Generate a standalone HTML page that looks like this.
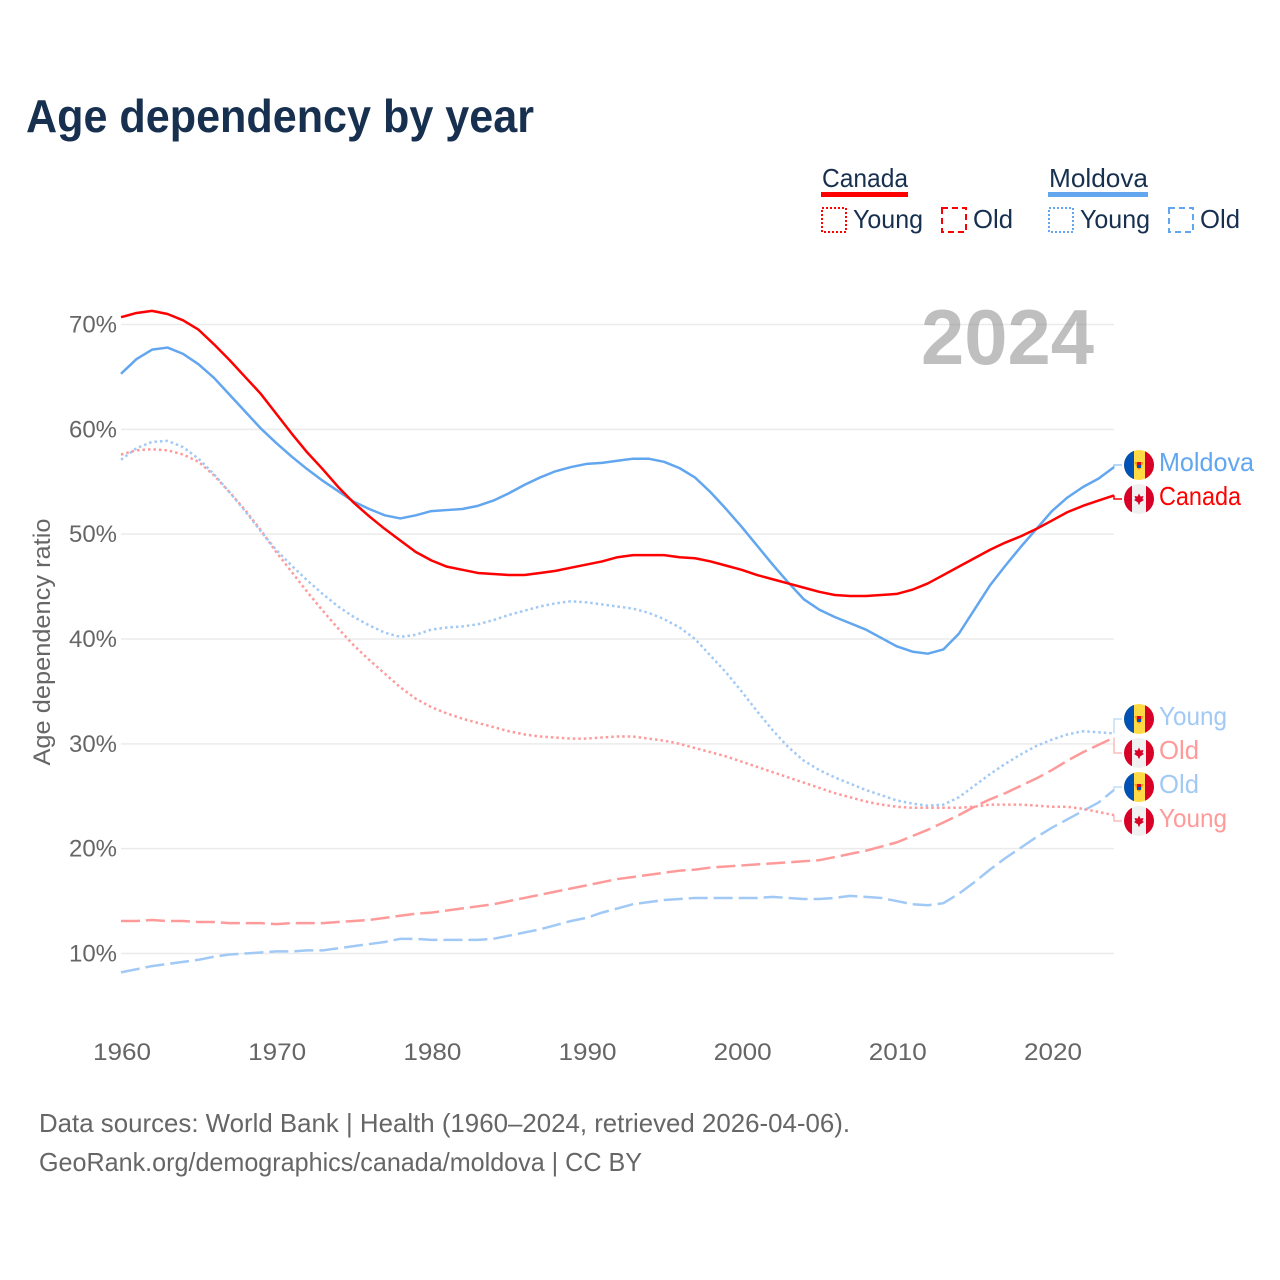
<!DOCTYPE html>
<html lang="en">
<head>
<meta charset="utf-8">
<title>Age dependency by year</title>
<style>
html,body{margin:0;padding:0;background:#fff;}
svg{display:block;}
text{font-family:"Liberation Sans",sans-serif;}
</style>
</head>
<body>
<svg id="chart" xmlns="http://www.w3.org/2000/svg" width="1280" height="1280" viewBox="0 0 1280 1280">
<rect x="0" y="0" width="1280" height="1280" fill="#fff"/>
<text x="26" y="132" font-size="46" font-weight="700" fill="#17304f" textLength="508" lengthAdjust="spacingAndGlyphs">Age dependency by year</text>

<g>
<text x="822" y="187" font-size="26" fill="#17304f" textLength="86" lengthAdjust="spacingAndGlyphs">Canada</text>
<rect x="821" y="192" width="87" height="5" fill="#ff0000"/>
<rect x="822" y="208" width="24" height="24" fill="none" stroke="#ff0000" stroke-width="2" stroke-dasharray="2 2"/>
<text x="853" y="228" font-size="26" fill="#17304f" textLength="70" lengthAdjust="spacingAndGlyphs">Young</text>
<rect x="942" y="208" width="24" height="24" fill="none" stroke="#ff0000" stroke-width="2" stroke-dasharray="6 4"/>
<text x="973" y="228" font-size="26" fill="#17304f" textLength="40" lengthAdjust="spacingAndGlyphs">Old</text>
<text x="1049" y="187" font-size="26" fill="#17304f" textLength="99" lengthAdjust="spacingAndGlyphs">Moldova</text>
<rect x="1048" y="192" width="100" height="5" fill="#62a6ef"/>
<rect x="1049" y="208" width="24" height="24" fill="none" stroke="#62a6ef" stroke-width="2" stroke-dasharray="2 2"/>
<text x="1080" y="228" font-size="26" fill="#17304f" textLength="70" lengthAdjust="spacingAndGlyphs">Young</text>
<rect x="1169" y="208" width="24" height="24" fill="none" stroke="#62a6ef" stroke-width="2" stroke-dasharray="6 4"/>
<text x="1200" y="228" font-size="26" fill="#17304f" textLength="40" lengthAdjust="spacingAndGlyphs">Old</text>
</g>

<g id="grid"></g>
<g id="yticks"></g>
<g id="xticks"></g>
<text x="0" y="0" transform="translate(50,642) rotate(-90)" text-anchor="middle" font-size="24" fill="#666" textLength="247" lengthAdjust="spacingAndGlyphs">Age dependency ratio</text>
<text x="921" y="364" font-size="78" font-weight="700" fill="#808080" fill-opacity="0.5" textLength="173" lengthAdjust="spacingAndGlyphs">2024</text>
<g id="connectors"></g>
<g id="series"></g>

<defs>
<clipPath id="flagClip"><circle cx="15" cy="15" r="15"/></clipPath>
<g id="flagCA" clip-path="url(#flagClip)">
<rect x="0" y="0" width="30" height="30" fill="#f0f0f0"/>
<rect x="0" y="0" width="8" height="30" fill="#d80027"/>
<rect x="22" y="0" width="8" height="30" fill="#d80027"/>
<polygon points="15,9.5 16.5,12.5 19.5,12 18.5,15 20,16 16,18.5 15.6,20.5 14.4,20.5 14,18.5 10,16 11.5,15 10.5,12 13.5,12.5" fill="#d80027"/>
</g>
<g id="flagMD" clip-path="url(#flagClip)">
<rect x="0" y="0" width="30" height="30" fill="#ffda44"/>
<rect x="0" y="0" width="10" height="30" fill="#0052b4"/>
<rect x="21" y="0" width="9" height="30" fill="#d80027"/>
<polygon points="10.5,12 19.5,12 17,18 15,20 13,18" fill="#ff9811"/>
<rect x="13" y="12" width="4" height="3" fill="#d80027"/>
<rect x="13" y="15" width="4" height="3" fill="#0052b4"/>
</g>
</defs>
<g id="flags"></g>
<g id="endLabels"></g>

<text x="39" y="1132" font-size="26" fill="#666" textLength="811" lengthAdjust="spacingAndGlyphs">Data sources: World Bank | Health (1960–2024, retrieved 2026-04-06).</text>
<text x="39" y="1171" font-size="26" fill="#666" textLength="603" lengthAdjust="spacingAndGlyphs">GeoRank.org/demographics/canada/moldova | CC BY</text>
</svg>

<script>
const startYear = 1960;
const yTickValues = [10, 20, 30, 40, 50, 60, 70];
const xTickYears = [1960, 1970, 1980, 1990, 2000, 2010, 2020];

const canadaTotal = [70.7,71.1,71.3,71.0,70.4,69.5,68.1,66.6,65.0,63.4,61.5,59.6,57.8,56.2,54.5,53.0,51.7,50.5,49.4,48.3,47.5,46.9,46.6,46.3,46.2,46.1,46.1,46.3,46.5,46.8,47.1,47.4,47.8,48.0,48.0,48.0,47.8,47.7,47.4,47.0,46.6,46.1,45.7,45.3,44.9,44.5,44.2,44.1,44.1,44.2,44.3,44.7,45.3,46.1,46.9,47.7,48.5,49.2,49.8,50.5,51.3,52.1,52.7,53.2,53.7];
const moldovaTotal = [65.3,66.7,67.6,67.8,67.2,66.2,64.9,63.3,61.7,60.1,58.7,57.4,56.2,55.1,54.1,53.1,52.4,51.8,51.5,51.8,52.2,52.3,52.4,52.7,53.2,53.9,54.7,55.4,56.0,56.4,56.7,56.8,57.0,57.2,57.2,56.9,56.3,55.4,54.0,52.4,50.7,48.9,47.1,45.4,43.8,42.8,42.1,41.5,40.9,40.1,39.3,38.8,38.6,39.0,40.5,42.8,45.1,47.0,48.8,50.5,52.2,53.5,54.5,55.3,56.4];
const moldovaYoung = [57.1,58.2,58.8,58.9,58.3,57.2,55.7,54.0,52.2,50.3,48.5,47.0,45.6,44.3,43.1,42.1,41.3,40.6,40.2,40.4,40.9,41.1,41.2,41.4,41.8,42.3,42.7,43.1,43.4,43.6,43.5,43.3,43.1,42.9,42.5,41.9,41.1,40.0,38.4,36.8,35.0,33.1,31.3,29.7,28.4,27.5,26.8,26.2,25.6,25.1,24.6,24.3,24.1,24.2,24.9,26.0,27.1,28.1,29.0,29.8,30.4,30.9,31.2,31.1,31.0];
const moldovaOld = [8.2,8.5,8.8,9.0,9.2,9.4,9.7,9.9,10.0,10.1,10.2,10.2,10.3,10.3,10.5,10.7,10.9,11.1,11.4,11.4,11.3,11.3,11.3,11.3,11.4,11.7,12.0,12.3,12.7,13.1,13.4,13.9,14.3,14.7,14.9,15.1,15.2,15.3,15.3,15.3,15.3,15.3,15.4,15.3,15.2,15.2,15.3,15.5,15.4,15.3,15.0,14.7,14.6,14.8,15.7,16.8,18.0,19.1,20.1,21.1,22.0,22.8,23.6,24.4,25.6];
const canadaYoung = [57.6,58.0,58.1,58.0,57.6,56.9,55.6,54.0,52.3,50.4,48.3,46.4,44.5,42.7,41.0,39.4,38.0,36.7,35.4,34.3,33.5,32.9,32.4,32.0,31.6,31.2,30.9,30.7,30.6,30.5,30.5,30.6,30.7,30.7,30.5,30.3,30.0,29.6,29.2,28.8,28.3,27.8,27.3,26.8,26.3,25.8,25.3,24.9,24.5,24.2,24.0,23.9,23.9,23.9,23.9,24.0,24.2,24.2,24.2,24.1,24.0,24.0,23.8,23.5,23.2];
const canadaOld = [13.1,13.1,13.2,13.1,13.1,13.0,13.0,12.9,12.9,12.9,12.8,12.9,12.9,12.9,13.0,13.1,13.2,13.4,13.6,13.8,13.9,14.1,14.3,14.5,14.7,15.0,15.3,15.6,15.9,16.2,16.5,16.8,17.1,17.3,17.5,17.7,17.9,18.0,18.2,18.3,18.4,18.5,18.6,18.7,18.8,18.9,19.2,19.5,19.8,20.2,20.6,21.2,21.8,22.5,23.2,24.0,24.7,25.3,26.0,26.7,27.5,28.4,29.2,29.9,30.6];

const NS = 'http://www.w3.org/2000/svg';
function xScale(year) { return 121 + (year - 1960) * (993 / 64); }
function yScale(v) { return 324.5 + (70 - v) * (629 / 60); }
function make(tag, parent) {
  const el = document.createElementNS(NS, tag);
  parent.appendChild(el);
  return el;
}

const grid = document.getElementById('grid');
const yticks = document.getElementById('yticks');
yTickValues.forEach(function (v) {
  const line = make('line', grid);
  
  
  line.setAttribute('x1', 121);
  line.setAttribute('x2', 1114);
  line.setAttribute('y1', yScale(v));
  line.setAttribute('y2', yScale(v));
  line.setAttribute('stroke', '#ebebeb');
  line.setAttribute('stroke-width', '1.5');
  const t = make('text', yticks);
  
  
  t.setAttribute('x', 117);
  t.setAttribute('y', yScale(v) + 8);
  t.setAttribute('text-anchor', 'end');
  t.setAttribute('font-size', '24');
  t.setAttribute('fill', '#666');
  t.setAttribute('textLength', '48');
  t.setAttribute('lengthAdjust', 'spacingAndGlyphs');
  t.textContent = v + '%';
});

const xticks = document.getElementById('xticks');
xTickYears.forEach(function (yr) {
  const t = make('text', xticks);
  
  
  t.setAttribute('x', xScale(yr) + 1);
  t.setAttribute('y', 1060);
  t.setAttribute('text-anchor', 'middle');
  t.setAttribute('font-size', '24');
  t.setAttribute('fill', '#666');
  t.setAttribute('textLength', '58');
  t.setAttribute('lengthAdjust', 'spacingAndGlyphs');
  t.textContent = yr;
});

function drawSeries(values, name, color, width, dash) {
  const pts = values.map(function (v, i) {
    return xScale(startYear + i).toFixed(2) + ',' + yScale(v).toFixed(2);
  }).join(' ');
  const line = make('polyline', document.getElementById('series'));
  
  
  line.setAttribute('points', pts);
  line.setAttribute('fill', 'none');
  line.setAttribute('stroke', color);
  line.setAttribute('stroke-width', width);
  line.setAttribute('stroke-linejoin', 'round');
  if (dash) line.setAttribute('stroke-dasharray', dash);
}
const lightRed = '#ff9a9a';
const lightBlue = '#a1c9f5';
drawSeries(canadaOld, 'line-canada-old', lightRed, 2.5, '19 6');
drawSeries(moldovaOld, 'line-moldova-old', lightBlue, 2.5, '19 6');
drawSeries(canadaYoung, 'line-canada-young', lightRed, 2.5, '2.5 3');
drawSeries(moldovaYoung, 'line-moldova-young', lightBlue, 2.5, '2.5 3');
drawSeries(moldovaTotal, 'line-moldova-total', '#62a6ef', 2.5, '');
drawSeries(canadaTotal, 'line-canada-total', '#ff0000', 2.5, '');

function endLabel(series, labelY, text, name, flagId, color, lineColor, textWidth) {
  const endV = series[series.length - 1];
  const c = make('polyline', document.getElementById('connectors'));
  
  
  c.setAttribute('points', '1114,' + yScale(endV).toFixed(2) + ' 1114,' + labelY + ' 1122,' + labelY);
  c.setAttribute('fill', 'none');
  c.setAttribute('stroke', lineColor);
  c.setAttribute('stroke-width', '1.5');
  const u = make('use', document.getElementById('flags'));
  
  
  u.setAttribute('href', '#' + flagId);
  u.setAttribute('x', 1124);
  u.setAttribute('y', labelY - 15);
  const t = make('text', document.getElementById('endLabels'));
  
  
  t.setAttribute('x', 1159);
  t.setAttribute('y', labelY + 6);
  t.setAttribute('font-size', '26');
  t.setAttribute('fill', color);
  t.setAttribute('textLength', textWidth);
  t.setAttribute('lengthAdjust', 'spacingAndGlyphs');
  t.textContent = text;
}
endLabel(moldovaTotal, 465, 'Moldova', 'moldova-total', 'flagMD', '#62a6ef', '#a1c9f5', 95);
endLabel(canadaTotal, 499, 'Canada', 'canada-total', 'flagCA', '#ff0000', '#ff0000', 82);
endLabel(moldovaYoung, 719, 'Young', 'moldova-young', 'flagMD', lightBlue, '#c4ddf8', 68);
endLabel(canadaOld, 753, 'Old', 'canada-old', 'flagCA', lightRed, '#ffbcbc', 40);
endLabel(moldovaOld, 787, 'Old', 'moldova-old', 'flagMD', lightBlue, '#c4ddf8', 40);
endLabel(canadaYoung, 821, 'Young', 'canada-young', 'flagCA', lightRed, '#ffbcbc', 68);
</script>
</body>
</html>
